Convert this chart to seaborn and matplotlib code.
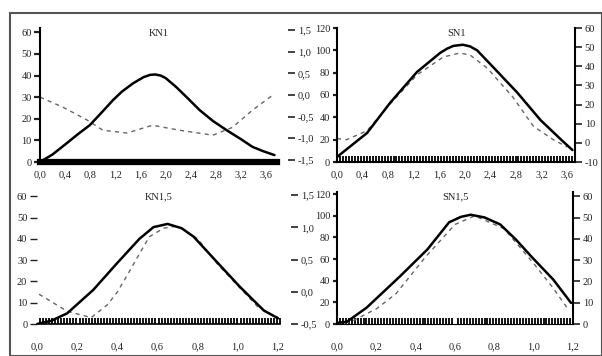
import numpy as np
import pandas as pd
import matplotlib
matplotlib.use("Agg")
import matplotlib.pyplot as plt
from matplotlib.ticker import FuncFormatter, MultipleLocator
from matplotlib.patches import Rectangle
import seaborn as sns

sns.set_style("white")
plt.rcParams['font.family'] = ['Liberation Serif', 'DejaVu Serif']

# ---------------- data ----------------
titles = ["KN1", "SN1", "KN1,5", "SN1,5"]

kn1_x_solid = [0, 0.2, 0.43, 0.6, 0.79, 1.0, 1.16, 1.3, 1.48, 1.65, 1.75, 1.83, 1.92, 2.0, 2.17, 2.35, 2.54, 2.75, 2.97, 3.2, 3.38, 3.55, 3.73]
kn1_y_solid = [0, 3.5, 8.8, 12.8, 17, 23.5, 28.6, 32.5, 36.4, 39.3, 40.3, 40.5, 40.0, 38.8, 34.6, 29.5, 24, 19, 14.7, 10.5, 7, 5, 3.2]
kn1_x_dash = [0, 0.37, 0.75, 1.0, 1.38, 1.79, 2.22, 2.75, 3.06, 3.38, 3.7]
kn1_y_dash = [30, 25.3, 19.4, 14.7, 13.4, 17, 14.7, 12.4, 16, 24, 30.9]

sn1_x_solid = [0, 0.47, 0.83, 1.25, 1.61, 1.72, 1.82, 1.97, 2.08, 2.19, 2.44, 2.82, 3.18, 3.54, 3.68]
sn1_y_solid = [4.5, 26, 53, 80.6, 97.6, 101.5, 104, 105, 103.5, 100, 85, 62, 37.6, 18, 10.7]
sn1_x_dash = [0, 0.15, 0.47, 0.83, 1.25, 1.66, 1.92, 2.08, 2.35, 2.75, 3.07, 3.38, 3.6]
sn1_y_dash = [21, 20, 28, 52, 78, 94, 97.6, 95.8, 84, 58, 32, 20, 13.4]

kn15_x_solid = [0, 0.07, 0.15, 0.28, 0.4, 0.51, 0.58, 0.65, 0.72, 0.78, 0.9, 1.01, 1.13, 1.2]
kn15_y_solid = [0, 1.5, 5, 16, 28.7, 40, 45.5, 47, 45, 41, 28.7, 17.5, 6.3, 2.7]
kn15_x_dash = [0.01, 0.15, 0.27, 0.35, 0.4, 0.45, 0.51, 0.56, 0.63, 0.7, 0.8, 0.9, 1.0, 1.1, 1.2]
kn15_y_dash = [14, 6, 3, 9, 15, 23, 33, 41, 45, 46, 40, 28, 18, 8, 3]

sn15_x_solid = [0, 0.05, 0.15, 0.32, 0.46, 0.57, 0.63, 0.68, 0.75, 0.83, 0.91, 0.99, 1.1, 1.19]
sn15_y_solid = [1, 2, 15, 44, 69, 94, 99, 101, 98.5, 92, 78, 62, 41, 19.5]
sn15_x_dash = [0, 0.07, 0.2, 0.3, 0.45, 0.6, 0.7, 0.85, 1.0, 1.1, 1.17]
sn15_y_dash = [0, 2, 14, 28, 62, 92, 100, 88, 56, 33, 15]

# axis tick values
kn1_left_ticks = [0, 10, 20, 30, 40, 50, 60]
kn1_right_ticks = [-1.5, -1.0, -0.5, 0.0, 0.5, 1.0, 1.5]
sn1_left_ticks = [0, 20, 40, 60, 80, 100, 120]
sn1_right_ticks = [-10, 0, 10, 20, 30, 40, 50, 60]
kn15_left_ticks = [0, 10, 20, 30, 40, 50, 60]
kn15_right_ticks = [-0.5, 0.0, 0.5, 1.0, 1.5]
sn15_left_ticks = [0, 20, 40, 60, 80, 100, 120]
sn15_right_ticks = [0, 10, 20, 30, 40, 50, 60]
top_xticks = [0.0, 0.4, 0.8, 1.2, 1.6, 2.0, 2.4, 2.8, 3.2, 3.6]
bottom_xticks = [0.0, 0.2, 0.4, 0.6, 0.8, 1.0, 1.2]

# ---------------- figure ----------------
W, H = 602, 356
fig = plt.figure(figsize=(W / 100, H / 100), dpi=100)
fig.patch.set_facecolor("white")
fig.patches.append(Rectangle((10 / W, 0), 1 - 10 / W, 1 - 13 / H, transform=fig.transFigure,
                             fill=False, edgecolor="#555555", linewidth=1.5))


def add_ax(x0, y0, x1, y1):
    return fig.add_axes([x0 / W, 1 - y1 / H, (x1 - x0) / W, (y1 - y0) / H])


comma = FuncFormatter(lambda v, p: f"{v:.1f}".replace(".", ","))
intfmt = FuncFormatter(lambda v, p: f"{v:.0f}")
FS = 7.5


def draw(ax, xs, ys, xd, yd, ylim, yticks, xlim, xticks, title, xpad):
    sns.lineplot(x=xd, y=yd, ax=ax, color="#666666", linewidth=1.0, linestyle=(0, (3, 3)))
    sns.lineplot(x=xs, y=ys, ax=ax, color="black", linewidth=1.8)
    ax.set_xlim(*xlim)
    ax.set_ylim(*ylim)
    ax.set_xticks(xticks)
    ax.set_yticks(yticks)
    ax.xaxis.set_major_formatter(comma)
    ax.yaxis.set_major_formatter(intfmt)
    ax.set_xlabel("")
    ax.set_ylabel("")
    ax.tick_params(axis="both", labelsize=FS, colors="#222222")
    ax.tick_params(axis="x", length=0, pad=xpad)
    ax.tick_params(axis="y", left=True, length=4, width=1.6, direction="out", pad=2)
    ax.xaxis.set_minor_locator(MultipleLocator((xlim[1] - xlim[0]) / 80))
    ax.tick_params(axis="x", which="minor", bottom=True, length=4, width=1.3,
                   direction="in", color="black")
    ax.set_title(title, y=0.88, fontsize=FS, color="#222222")
    ax.set_facecolor("none")
    for s in ax.spines.values():
        s.set_color("black")
        s.set_linewidth(1.5)
    ax.spines["top"].set_visible(False)
    ax.spines["right"].set_visible(False)


def right_axis(ax, ylim, ticks, fmt, spine):
    tw = ax.twinx()
    tw.set_ylim(*ylim)
    tw.set_yticks(ticks)
    tw.yaxis.set_major_formatter(fmt)
    tw.tick_params(axis="y", right=True, labelsize=FS, colors="#222222", length=5, width=1.2, pad=2)
    for s in tw.spines.values():
        s.set_visible(False)
    if spine:
        tw.spines["right"].set_visible(True)
        tw.spines["right"].set_linewidth(1.5)
        tw.spines["right"].set_color("black")
    else:
        tw.spines["right"].set_position(("outward", 8))
    return tw


# top-left KN1
ax1 = add_ax(40, 28, 277, 162)
draw(ax1, kn1_x_solid, kn1_y_solid, kn1_x_dash, kn1_y_dash, (0, 62), kn1_left_ticks,
     (0, 3.77), top_xticks, titles[0], 6)
ax1.spines["bottom"].set_linewidth(4.5)
ax1.tick_params(axis="x", which="minor", length=0)
right_axis(ax1, (-1.55, 1.55), kn1_right_ticks, comma, False)

# top-right SN1
ax2 = add_ax(337, 28, 575, 162)
draw(ax2, sn1_x_solid, sn1_y_solid, sn1_x_dash, sn1_y_dash, (0, 120), sn1_left_ticks,
     (0, 3.72), top_xticks, titles[1], 6)
ax2.tick_params(axis="y", length=3)
right_axis(ax2, (-10, 60), sn1_right_ticks, intfmt, True)

# bottom-left KN1,5
ax3 = add_ax(37, 192, 280, 324)
draw(ax3, kn15_x_solid, kn15_y_solid, kn15_x_dash, kn15_y_dash, (0, 62), kn15_left_ticks,
     (0, 1.21), bottom_xticks, titles[2], 13)
ax3.spines["left"].set_visible(False)
ax3.spines["bottom"].set_linewidth(1.2)
ax3.tick_params(axis="y", length=5, width=1.0)
right_axis(ax3, (-0.5, 1.55), kn15_right_ticks, comma, False)

# bottom-right SN1,5
ax4 = add_ax(337, 192, 573, 324)
draw(ax4, sn15_x_solid, sn15_y_solid, sn15_x_dash, sn15_y_dash, (0, 122), sn15_left_ticks,
     (0, 1.2), bottom_xticks, titles[3], 13)
ax4.spines["bottom"].set_linewidth(0.8)
ax4.tick_params(axis="y", length=3)
right_axis(ax4, (0, 62), sn15_right_ticks, intfmt, True)

fig.savefig("out.png", dpi=100, facecolor="white")
